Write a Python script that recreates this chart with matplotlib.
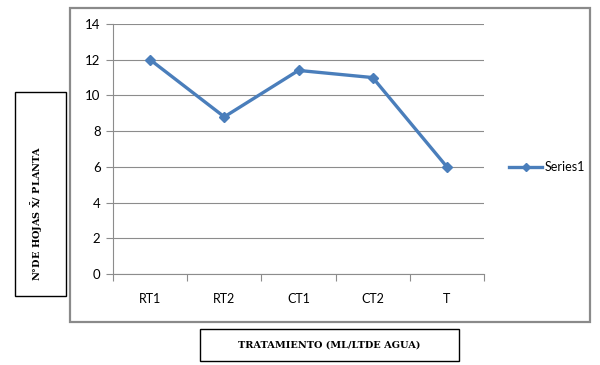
import numpy as np
import matplotlib
matplotlib.use("Agg")
import matplotlib.pyplot as plt
from matplotlib.patches import Rectangle

# Data
categories = ["RT1", "RT2", "CT1", "CT2", "T"]
values = [12.0, 8.8, 11.4, 11.0, 6.0]
series_name = "Series1"
y_ticks = [0, 2, 4, 6, 8, 10, 12, 14]
x_label = "TRATAMIENTO (ML/LTDE AGUA)"
y_label = r"N°DE HOJAS $\mathbf{\bar{X}}$/ PLANTA"

line_color = "#4A7EBB"
grid_color = "#8C8C8C"

plt.rcParams["font.family"] = ["Lato", "DejaVu Sans"]
plt.rcParams["mathtext.fontset"] = "dejavuserif"

fig = plt.figure(figsize=(6, 3.65), dpi=100)
ax = fig.add_axes([113 / 600, 91 / 365, 371 / 600, 250 / 365])

x = np.arange(len(categories))
ax.plot(x, values, color=line_color, lw=2.4, marker="D", ms=5.5,
        label=series_name, zorder=3)

ax.set_xlim(-0.5, len(categories) - 0.5)
ax.set_ylim(0, 14)
ax.set_yticks(y_ticks)
ax.yaxis.grid(True, color=grid_color, lw=0.8)
ax.set_axisbelow(True)

# tick marks on category boundaries, labels in the middle
ax.set_xticks(np.arange(len(categories) + 1) - 0.5)
ax.set_xticklabels([])
ax.set_xticks(x, minor=True)
ax.set_xticklabels(categories, minor=True)
ax.tick_params(axis="x", which="major", length=5, color=grid_color, direction="out")
ax.tick_params(axis="x", which="minor", length=0, pad=14, labelsize=9)
ax.tick_params(axis="y", length=5, color=grid_color, labelsize=9.5, pad=4)

for s in ["top", "right"]:
    ax.spines[s].set_visible(False)
for s in ["left", "bottom"]:
    ax.spines[s].set_color(grid_color)
    ax.spines[s].set_linewidth(0.8)

leg = fig.legend(loc="center left", bbox_to_anchor=(498 / 600, 1 - 167 / 365),
                 frameon=False, fontsize=9, handlelength=2.6, handletextpad=0.2,
                 markerscale=0.8)

# outer chart frame
fig.add_artist(Rectangle((70 / 600, 43 / 365), 520 / 600, 314 / 365,
                         transform=fig.transFigure, fill=False,
                         edgecolor="#8A8A8A", lw=1.6))

# y label box
fig.add_artist(Rectangle((15 / 600, 69 / 365), 51 / 600, 204 / 365,
                         transform=fig.transFigure, fill=False,
                         edgecolor="black", lw=1.0))
fig.text(37 / 600, 1 - 213 / 365, y_label, rotation=90, ha="center",
         va="center", fontsize=7, fontweight="bold", family="DejaVu Serif")

# x label box
fig.add_artist(Rectangle((200 / 600, 4 / 365), 259 / 600, 32 / 365,
                         transform=fig.transFigure, fill=False,
                         edgecolor="black", lw=1.0))
fig.text(329.5 / 600, 1 - 345 / 365, x_label, ha="center", va="center",
         fontsize=7, fontweight="bold", family="DejaVu Serif")

fig.savefig("out.png", dpi=100)
